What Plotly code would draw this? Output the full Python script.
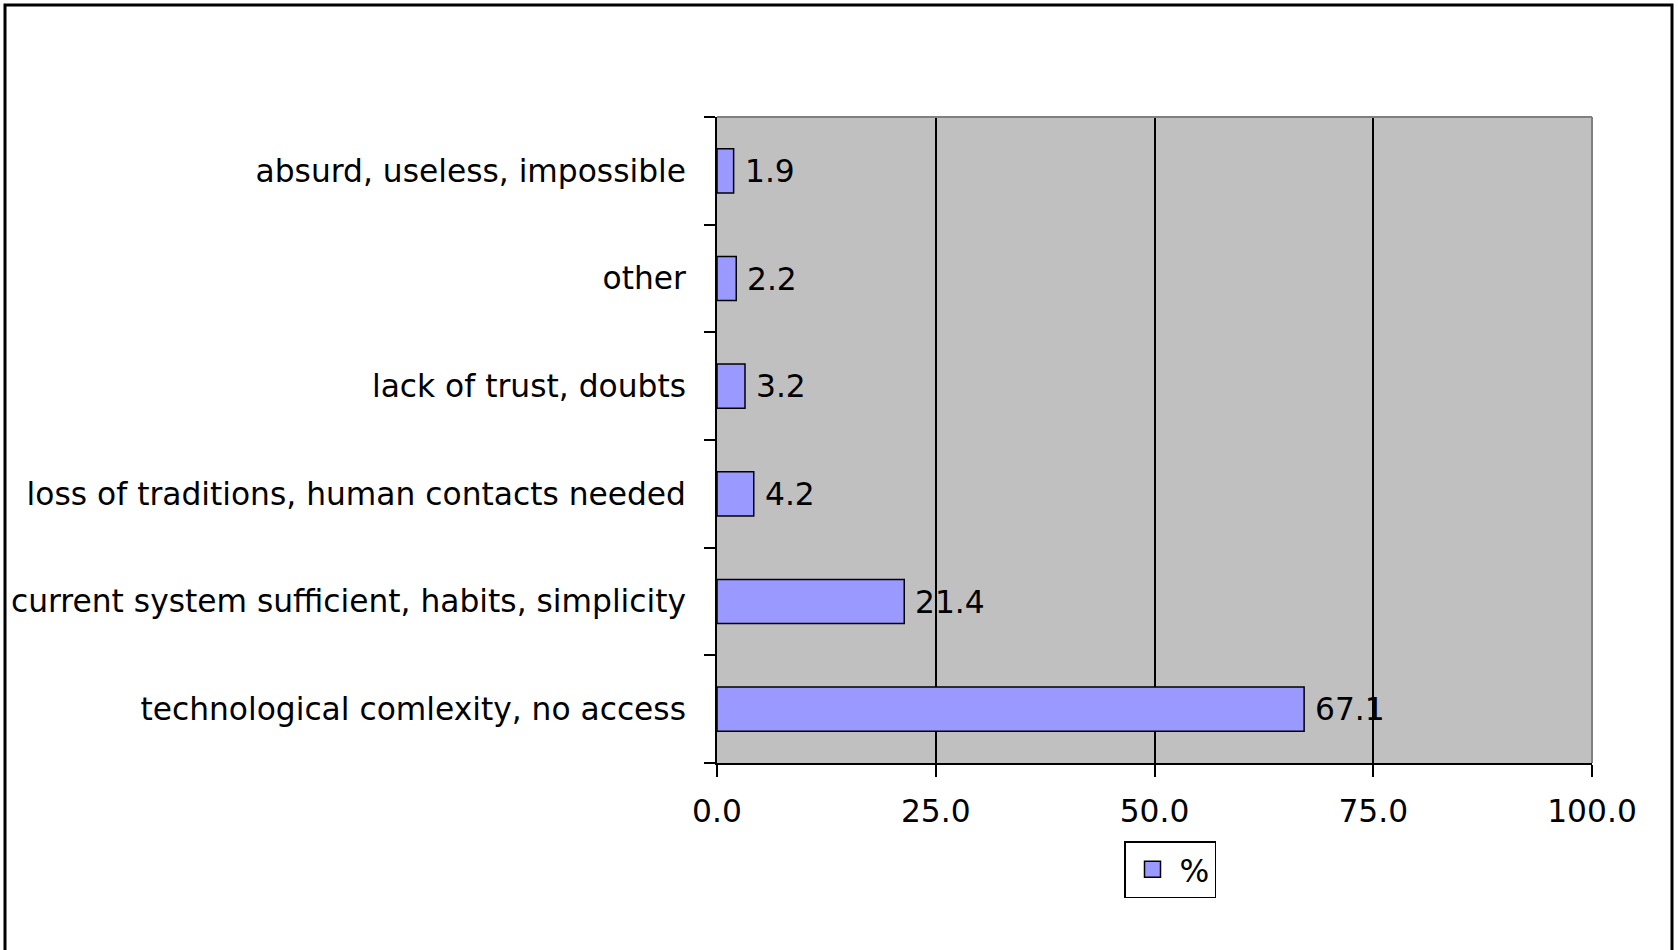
import plotly.graph_objects as go

# Survey reasons, listed bottom to top, with their shares in percent
categories = [
    "technological comlexity, no access",
    "current system sufficient, habits, simplicity",
    "loss of traditions, human contacts needed",
    "lack of trust, doubts",
    "other",
    "absurd, useless, impossible",
]
values = [67.1, 21.4, 4.2, 3.2, 2.2, 1.9]
x_ticks = [0, 25, 50, 75, 100]
series_name = "%"

FONT = "DejaVu Sans"
FS = 31.3
BAR_COLOR = "#9999FF"

fig = go.Figure()
fig.add_trace(go.Bar(
    y=categories,
    x=values,
    orientation="h",
    name=series_name,
    marker=dict(color=BAR_COLOR, line=dict(color="black", width=1.5)),
    showlegend=False,
))

# legend key drawn as a larger outlined square
fig.add_trace(go.Scatter(
    x=[None], y=[None], mode="markers", name=series_name,
    marker=dict(symbol="square", size=16, color=BAR_COLOR,
                line=dict(color="black", width=1.5)),
    showlegend=True,
))

# value labels just right of each bar end
for cat, val in zip(categories, values):
    fig.add_annotation(
        x=val, y=cat, xref="x", yref="y",
        text=f"{val:.1f}", showarrow=False,
        xanchor="left", yanchor="middle", xshift=9,
        font=dict(family=FONT, size=FS, color="black"),
    )

W, H = 1678, 950
L, R, T, B = 717, 86, 117, 187
pw, ph = W - L - R, H - T - B

def px_x(p):
    return (p - L) / pw

def px_y(p):
    return (H - B - p) / ph

shapes = [
    # grey frame on top and right of the plot area
    dict(type="line", xref="paper", yref="paper", x0=0, x1=1, y0=1, y1=1,
         line=dict(color="#808080", width=2), layer="above"),
    dict(type="line", xref="paper", yref="paper", x0=1, x1=1, y0=0, y1=1,
         line=dict(color="#808080", width=2), layer="above"),
    # outer chart border
    dict(type="rect", xref="paper", yref="paper",
         x0=px_x(5), x1=px_x(1672), y0=px_y(1000), y1=px_y(5),
         line=dict(color="black", width=3), fillcolor="rgba(0,0,0,0)", layer="above"),
]

fig.update_layout(
    width=W, height=H,
    margin=dict(l=L, r=R, t=T, b=B, pad=0, autoexpand=False),
    paper_bgcolor="white",
    plot_bgcolor="#C0C0C0",
    font=dict(family=FONT, size=FS, color="black"),
    bargap=0.59,
    shapes=shapes,
    legend=dict(
        x=px_x(1124), y=px_y(841), xanchor="left", yanchor="top",
        bordercolor="black", borderwidth=1.5, bgcolor="white",
        font=dict(family=FONT, size=FS, color="black"),
        itemwidth=44,
    ),
    xaxis=dict(
        range=[0, 100], tickvals=x_ticks, tickformat=".1f",
        showgrid=True, gridcolor="black", gridwidth=1.5,
        showline=True, linecolor="black", linewidth=1.5,
        ticks="outside", ticklen=12, tickwidth=1.5, tickcolor="black",
        zeroline=False, ticklabelstandoff=8, automargin=False,
    ),
    yaxis=dict(
        type="category", categoryorder="array", categoryarray=categories,
        range=[-0.5, len(categories) - 0.5],
        showgrid=False, zeroline=False,
        showline=True, linecolor="black", linewidth=1.5,
        ticks="outside", ticklen=11, tickwidth=1.5, tickcolor="black",
        tickson="boundaries", ticklabelstandoff=23, automargin=False,
    ),
)

fig.write_html("out.html")
